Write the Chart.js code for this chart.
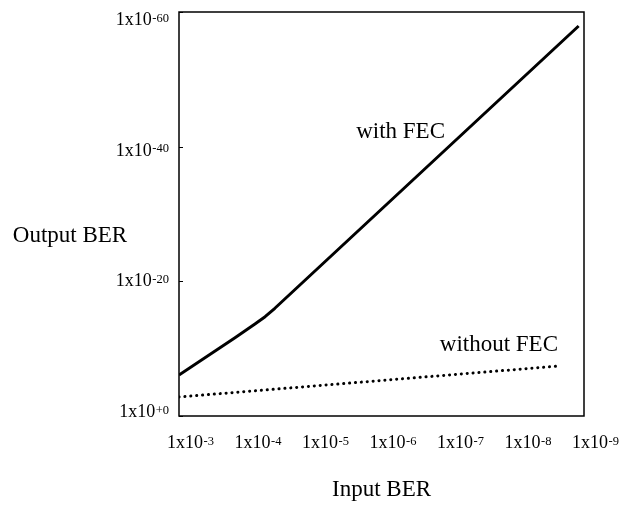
<!DOCTYPE html>
<html>
<head>
<meta charset="utf-8">
<script src="https://cdn.jsdelivr.net/npm/chart.js@4.4.1/dist/chart.umd.min.js"></script>
<style>
  body { margin: 0; background: #fff; }
  #wrap { width: 626px; height: 505px; }
</style>
</head>
<body>
<div id="wrap"><canvas id="berChart" width="626" height="505"></canvas></div>
<script>
// tick values
const inputBerTicks = [1e-3, 1e-4, 1e-5, 1e-6, 1e-7, 1e-8, 1e-9];
const outputBerTicks = [1e0, 1e-20, 1e-40, 1e-60];

const withFecInput = [1e-3, 1.48e-4, 7.5e-5, 5.3e-5, 3.8e-5, 1.2e-9];
const withFecOutput = [8e-7, 2.3e-12, 2.2e-14, 1.8e-15, 1e-16, 1.2e-58];

const withoutFecInput = [1e-3, 2.3e-9];
const withoutFecOutput = [1.5e-3, 3.7e-8];

const seriesNames = ["with FEC", "without FEC"];

const SERIF = "'Liberation Serif', 'Times New Roman', serif";

// "1x10" with the exponent as a raised smaller string
const expOf = function (value) {
  var e = Math.round(Math.log10(value));
  return e === 0 ? "+0" : String(e);
};

const drawPower = function (ctx, value, x, y, align) {
  var base = "1x10";
  var exp = expOf(value);
  ctx.font = "18px " + SERIF;
  var bw = ctx.measureText(base).width;
  ctx.font = "12.5px " + SERIF;
  var ew = ctx.measureText(exp).width;
  var left = align === "right" ? x - bw - ew - 0.5 : x;
  ctx.textAlign = "left";
  ctx.textBaseline = "alphabetic";
  ctx.font = "18px " + SERIF;
  ctx.fillText(base, left, y);
  ctx.font = "12.5px " + SERIF;
  ctx.fillText(exp, left + bw + 0.5, y - 3.5);
};

const toPoints = function (xs, ys) {
  var pts = [];
  for (let i = 0; i < xs.length; i++) {
    pts.push({ x: xs[i], y: ys[i] });
  }
  return pts;
};

const frameAndText = {
  id: "frameAndText",
  afterDraw(chart) {
    const ctx = chart.ctx;
    const a = chart.chartArea;
    const xScale = chart.scales.x;
    const yScale = chart.scales.y;
    ctx.save();
    ctx.strokeStyle = "#000";
    ctx.lineWidth = 1.5;
    ctx.strokeRect(a.left, a.top, a.right - a.left, a.bottom - a.top);

    ctx.fillStyle = "#000";
    // y ticks: small inward marks + labels
    ctx.lineWidth = 1;
    for (let v of outputBerTicks) {
      const py = yScale.getPixelForValue(v);
      ctx.beginPath();
      ctx.moveTo(a.left, Math.round(py) + 0.5);
      ctx.lineTo(a.left + 4, Math.round(py) + 0.5);
      ctx.stroke();
      // labels sit a little low near the top, on the tick near the bottom
      const shift = 13 - (12 * (py - a.top)) / (a.bottom - a.top);
      drawPower(ctx, v, a.left - 10, py + shift, "right");
    }
    // x tick labels
    for (let v of inputBerTicks) {
      const px = xScale.getPixelForValue(v);
      drawPower(ctx, v, px - 12, a.bottom + 32, "left");
    }

    ctx.font = "23px " + SERIF;
    ctx.textBaseline = "alphabetic";
    ctx.textAlign = "right";
    ctx.fillText(seriesNames[0], a.left + 266, a.top + 126);
    ctx.fillText(seriesNames[1], a.left + 379, a.top + 339);
    ctx.textAlign = "center";
    ctx.fillText("Output BER", a.left - 109, a.top + 230);
    ctx.restore();
  },
};

const config = {
  type: "line",
  data: {
    datasets: [
      {
        label: seriesNames[0],
        data: toPoints(withFecInput, withFecOutput),
        borderColor: "#000",
        borderWidth: 3,
        borderJoinStyle: "round",
        pointRadius: 0,
        tension: 0,
        fill: false,
      },
      {
        label: seriesNames[1],
        data: toPoints(withoutFecInput, withoutFecOutput),
        borderColor: "#000",
        borderWidth: 3,
        borderDash: [0.1, 5.8],
        borderCapStyle: "round",
        pointRadius: 0,
        tension: 0,
        fill: false,
      },
    ],
  },
  options: {
    responsive: false,
    animation: false,
    layout: {
      padding: { top: 12, right: 42, bottom: 0, left: 0 },
    },
    scales: {
      x: {
        type: "logarithmic",
        reverse: true,
        min: 1e-9,
        max: 1e-3,
        afterFit: function (scale) {
          scale.height = 89;
        },
        afterBuildTicks: function (scale) {
          scale.ticks = inputBerTicks.map(function (v) {
            return { value: v };
          });
        },
        grid: { display: false, drawTicks: false },
        border: { display: false },
        ticks: { display: false },
        title: {
          display: true,
          text: "Input BER",
          color: "#000",
          font: { family: SERIF, size: 23 },
          padding: { top: 0, bottom: 1 },
        },
      },
      y: {
        type: "logarithmic",
        reverse: true,
        min: 1e-60,
        max: 1e0,
        afterFit: function (scale) {
          scale.width = 179;
        },
        afterBuildTicks: function (scale) {
          scale.ticks = outputBerTicks.map(function (v) {
            return { value: v };
          });
        },
        grid: { display: false, drawTicks: false },
        border: { display: false },
        ticks: { display: false },
      },
    },
    plugins: {
      legend: { display: false },
      tooltip: { enabled: false },
    },
  },
  plugins: [frameAndText],
};

const ctx = document.getElementById("berChart");
const berChart = new Chart(ctx, config);
</script>
</body>
</html>
